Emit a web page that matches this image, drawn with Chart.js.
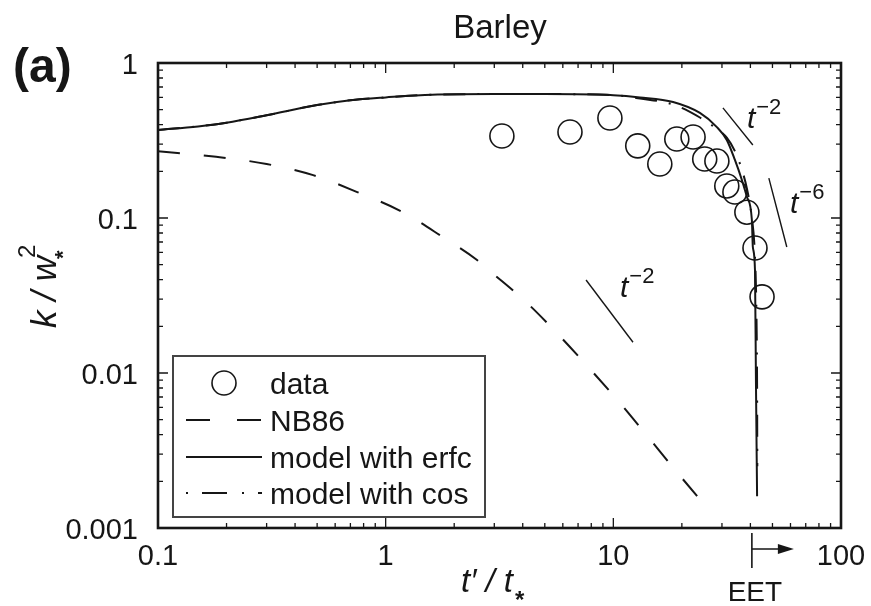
<!DOCTYPE html>
<html lang="en">
<head>
  <meta charset="UTF-8" />
  <title>Barley</title>
  <script src="https://cdn.jsdelivr.net/npm/chart.js"></script>
  <style>
    body { margin: 0; background: #fff; }
    canvas { display: block; }
  </style>
</head>
<body>
  <canvas id="chart" width="871" height="606"></canvas>
  <script>
    // measured data (t'/t*, k/w*^2)
    const dataT = [3.24, 6.45, 9.66, 12.8, 16.0, 19.0, 22.4, 25.2, 28.5, 31.5, 34.2, 38.6, 41.9, 45.0];
    const dataK = [0.338, 0.359, 0.442, 0.292, 0.223, 0.323, 0.333, 0.240, 0.233, 0.161, 0.147, 0.109, 0.064, 0.031];

    // NB86 curve
    const nbT = [0.1, 0.18, 0.3, 0.48, 0.75, 1.19, 1.79, 2.52, 2.87, 4.18, 5.65, 7.81, 10.7, 14.2, 19.0, 25.8];
    const nbK = [0.27, 0.248, 0.223, 0.189, 0.147, 0.109, 0.075, 0.0536, 0.0455, 0.0283, 0.0181, 0.0108, 0.0064, 0.00387, 0.0023, 0.00135];

    // model with erfc
    const erfcT = [0.1, 0.15, 0.2, 0.3, 0.5, 0.7, 1, 1.6, 3, 5, 10, 13.1, 18.3, 24.0, 28.5, 31.5, 34.2, 36.7, 38.6, 40.6, 41.0, 41.9, 42.3, 42.8];
    const erfcK = [0.37, 0.39, 0.412, 0.46, 0.535, 0.575, 0.60, 0.625, 0.63, 0.63, 0.62, 0.60, 0.56, 0.476, 0.386, 0.319, 0.237, 0.176, 0.137, 0.097, 0.065, 0.046, 0.009, 0.0016];

    // model with cos
    const cosT = [0.1, 0.15, 0.2, 0.3, 0.5, 0.7, 1, 1.6, 3, 5, 10, 13.1, 18.3, 24.0, 28.5, 31.5, 34.2, 36.7, 38.6, 40.6, 41.8, 42.5, 42.8, 42.9];
    const cosK = [0.37, 0.39, 0.412, 0.46, 0.535, 0.575, 0.60, 0.625, 0.63, 0.63, 0.62, 0.59, 0.54, 0.445, 0.375, 0.33, 0.27, 0.205, 0.155, 0.10, 0.06, 0.025, 0.008, 0.0025];

    // reference slope segments
    const slopeUpT = [30.3, 41.0], slopeUpK = [0.513, 0.296];
    const slope6T = [48.2, 57.8], slope6K = [0.181, 0.065];
    const slopeLowT = [7.59, 12.2], slopeLowK = [0.0398, 0.0158];

    // slope label anchors [t, k, exponent]
    const slopeLabels = [[38.6, 0.381, '\u22122'], [59.7, 0.1077, '\u22126'], [10.7, 0.0309, '\u22122']];

    const xTickLabels = [0.1, 1, 10, 100];
    const yTickLabels = [0.001, 0.01, 0.1, 1];
    const EET = 40.6;

    const legendLabels = ['data', 'NB86', 'model with erfc', 'model with cos'];

    const FONT = '"Liberation Sans", Arial, Helvetica, sans-serif';
    const INK = '#161616';

    const pts = (xs, ys) => xs.map((x, i) => ({ x: x, y: ys[i] }));

    const curve = (xs, ys, dash, w) => ({
      data: pts(xs, ys),
      showLine: true,
      borderColor: INK,
      borderWidth: w,
      borderDash: dash,
      pointRadius: 0,
      cubicInterpolationMode: 'monotone',
      fill: false
    });

    function tickValues(min, max) {
      const out = [];
      for (let d = min; d < max * 0.99; d *= 10) {
        for (let m = 1; m <= 9; m++) out.push({ v: m * d, major: m === 1 });
      }
      out.push({ v: max, major: true });
      return out;
    }

    const decor = {
      id: 'decor',
      afterDraw(chart) {
        const ctx = chart.ctx;
        const a = chart.chartArea;
        const xs = chart.scales.x, ys = chart.scales.y;
        ctx.save();
        ctx.strokeStyle = INK;
        ctx.fillStyle = INK;

        // inward ticks on all sides
        ctx.lineWidth = 1.3;
        tickValues(0.1, 100).forEach(t => {
          const px = xs.getPixelForValue(t.v);
          const len = t.major ? 10 : 5;
          ctx.beginPath();
          ctx.moveTo(px, a.bottom); ctx.lineTo(px, a.bottom - len);
          ctx.moveTo(px, a.top); ctx.lineTo(px, a.top + len);
          ctx.stroke();
        });
        tickValues(0.001, 1).forEach(t => {
          const py = ys.getPixelForValue(t.v);
          const len = t.major ? 10 : 5;
          ctx.beginPath();
          ctx.moveTo(a.left, py); ctx.lineTo(a.left + len, py);
          ctx.moveTo(a.right, py); ctx.lineTo(a.right - len, py);
          ctx.stroke();
        });

        // frame
        ctx.lineWidth = 2.6;
        ctx.strokeRect(a.left, a.top, a.right - a.left, a.bottom - a.top);

        // tick labels
        ctx.font = '29px ' + FONT;
        ctx.textAlign = 'center';
        ctx.textBaseline = 'alphabetic';
        xTickLabels.forEach(v => ctx.fillText(String(v), xs.getPixelForValue(v), a.bottom + 37));
        ctx.textAlign = 'right';
        yTickLabels.forEach(v => ctx.fillText(String(v), a.left - 20, ys.getPixelForValue(v) + 11));

        // title and panel letter
        ctx.textAlign = 'center';
        ctx.font = '33px ' + FONT;
        ctx.fillText('Barley', 500, 38);
        ctx.textAlign = 'left';
        ctx.font = 'bold 48px ' + FONT;
        ctx.fillText('(a)', 13, 82);

        // x axis title  t' / t*
        ctx.font = 'italic 33px ' + FONT;
        ctx.fillText('t\u2032 / t', 461, 592);
        const wx = ctx.measureText('t\u2032 / t').width;
        ctx.font = 'bold 24px ' + FONT;
        ctx.fillText('*', 461 + wx + 2, 608);

        // y axis title  k / w*^2
        ctx.save();
        ctx.translate(56, 328);
        ctx.rotate(-Math.PI / 2);
        ctx.font = 'italic 35px ' + FONT;
        ctx.fillText('k / w', 0, 0);
        const wy = ctx.measureText('k / w').width;
        ctx.font = 'bold 22px ' + FONT;
        ctx.fillText('*', wy - 3, 14);
        ctx.font = '24px ' + FONT;
        ctx.fillText('2', wy - 2, -21);
        ctx.restore();

        // slope labels
        slopeLabels.forEach(s => {
          const px = xs.getPixelForValue(s[0]), py = ys.getPixelForValue(s[1]);
          ctx.font = 'italic 30px ' + FONT;
          ctx.fillText('t', px, py);
          const tw = ctx.measureText('t').width;
          ctx.font = '22px ' + FONT;
          ctx.fillText(s[2], px + tw + 1, py - 14);
        });

        // EET marker
        const ex = xs.getPixelForValue(EET);
        ctx.lineWidth = 1.6;
        ctx.beginPath();
        ctx.moveTo(ex, a.bottom + 5); ctx.lineTo(ex, a.bottom + 40);
        ctx.moveTo(ex, a.bottom + 21); ctx.lineTo(ex + 30, a.bottom + 21);
        ctx.stroke();
        ctx.beginPath();
        ctx.moveTo(ex + 42, a.bottom + 21);
        ctx.lineTo(ex + 26, a.bottom + 16);
        ctx.lineTo(ex + 26, a.bottom + 26);
        ctx.closePath();
        ctx.fill();
        ctx.font = '28px ' + FONT;
        ctx.textAlign = 'center';
        ctx.fillText('EET', ex + 3, a.bottom + 73);

        // legend box
        ctx.textAlign = 'left';
        ctx.strokeStyle = '#444';
        ctx.lineWidth = 2;
        ctx.strokeRect(173, 356, 312, 161);
        ctx.strokeStyle = INK;
        const rows = [383, 420, 457, 493];
        ctx.font = '30px ' + FONT;
        legendLabels.forEach((lab, i) => ctx.fillText(lab, 270, rows[i] + 11));
        ctx.lineWidth = 1.6;
        ctx.beginPath();
        ctx.arc(224, rows[0], 12, 0, Math.PI * 2);
        ctx.stroke();
        ctx.lineWidth = 2;
        const seg = (y, dash) => {
          ctx.setLineDash(dash);
          ctx.beginPath();
          ctx.moveTo(186, y); ctx.lineTo(262, y);
          ctx.stroke();
        };
        seg(rows[1], [24, 27]);
        seg(rows[2], []);
        seg(rows[3], [2, 14, 25, 15]);
        ctx.setLineDash([]);
        ctx.restore();
      }
    };

    new Chart(document.getElementById('chart'), {
      type: 'scatter',
      data: {
        datasets: [
          {
            data: pts(dataT, dataK),
            pointRadius: 12,
            pointHoverRadius: 12,
            pointBorderWidth: 1.6,
            borderColor: INK,
            backgroundColor: 'rgba(0,0,0,0)',
            showLine: false
          },
          curve(nbT, nbK, [22, 24], 2),
          curve(erfcT, erfcK, [], 2),
          curve(cosT, cosK, [22, 12, 2, 12], 2),
          curve(slopeUpT, slopeUpK, [], 1.4),
          curve(slope6T, slope6K, [], 1.4),
          curve(slopeLowT, slopeLowK, [], 1.4)
        ]
      },
      options: {
        responsive: false,
        animation: false,
        devicePixelRatio: 1,
        layout: { padding: { left: 158, right: 30, top: 63, bottom: 78 } },
        plugins: { legend: { display: false }, tooltip: { enabled: false } },
        scales: {
          x: { type: 'logarithmic', min: 0.1, max: 100, display: false },
          y: { type: 'logarithmic', min: 0.001, max: 1, display: false }
        }
      },
      plugins: [decor]
    });
  </script>
</body>
</html>
